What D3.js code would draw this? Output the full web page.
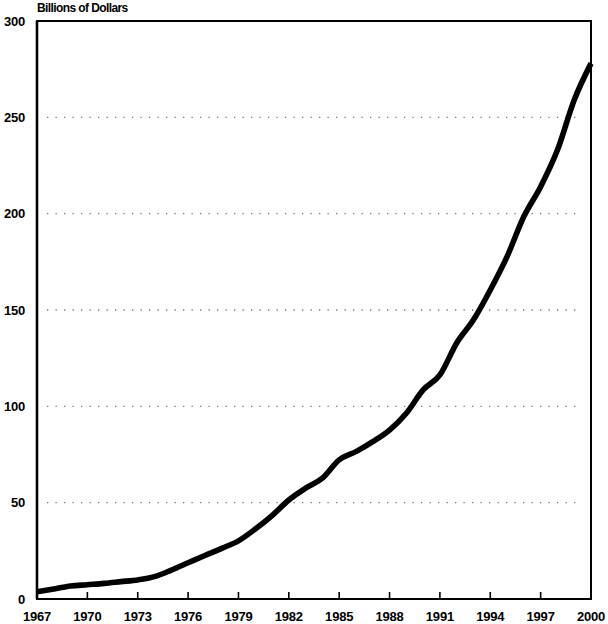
<!DOCTYPE html>
<html><head><meta charset="utf-8">
<script src="https://cdn.jsdelivr.net/npm/d3@7"></script>
<style>body{margin:0;background:#fff}svg{display:block}text{font-family:"Liberation Sans",Arial,sans-serif;font-weight:bold;fill:#000}</style>
</head><body>
<svg id="c" width="608" height="624"></svg>
<script>
const years = [1967,1968,1969,1970,1971,1972,1973,1974,1975,1976,1977,1978,1979,1980,1981,1982,1983,1984,1985,1986,1987,1988,1989,1990,1991,1992,1993,1994,1995,1996,1997,1998,1999,2000];
const values = [3.8,5.2,6.7,7.4,8.1,9.0,9.9,11.6,15.0,18.8,22.6,26.3,30.2,36.3,43.3,51.4,57.5,62.7,72.2,76.5,81.7,87.7,96.4,108.5,116.3,132.9,144.9,160.4,177.7,198.5,214.0,233.0,259.0,278.0];
const xTicks = [1967,1970,1973,1976,1979,1982,1985,1988,1991,1994,1997,2000];
const yTicks = [0,50,100,150,200,250,300];
const gridVals = [50,100,150,200,250];
const yTitle = "Billions of Dollars";

const svg = d3.select("#c");
const L=37, R=591, T=21, B=599;
const x = d3.scaleLinear().domain([1967,2000]).range([L,R]);
const y = d3.scaleLinear().domain([0,300]).range([B,T]);

// gridlines
svg.append("g").selectAll("line").data(gridVals).join("line")
  .attr("x1",47).attr("x2",580).attr("y1",d=>y(d)).attr("y2",d=>y(d))
  .attr("stroke","#777").attr("stroke-width",1.3).attr("stroke-dasharray","1.3,7.2");

// frame
svg.append("rect").attr("x",L).attr("y",T).attr("width",R-L).attr("height",B-T)
  .attr("fill","none").attr("stroke","#000").attr("stroke-width",2);
svg.append("line").attr("x1",L).attr("x2",L).attr("y1",T).attr("y2",B).attr("stroke","#000").attr("stroke-width",2.6);

// bottom inner ticks
svg.append("g").selectAll("line").data(xTicks.filter(d=>d>1967&&d<2000)).join("line")
  .attr("x1",d=>x(d)).attr("x2",d=>x(d)).attr("y1",B).attr("y2",B-7)
  .attr("stroke","#000").attr("stroke-width",1.6);

// x labels
svg.append("g").selectAll("text").data(xTicks).join("text")
  .attr("x",d=>x(d)).attr("y",621).attr("text-anchor","middle")
  .attr("font-size",13).attr("letter-spacing","-0.2").text(d=>d);

// y labels
svg.append("g").selectAll("text").data(yTicks).join("text")
  .attr("x",25).attr("y",d=>y(d)+4.5).attr("text-anchor","end")
  .attr("font-size",13).attr("letter-spacing","-0.2").text(d=>d);

// title
svg.append("text").attr("x",37).attr("y",12).attr("font-size",12).attr("letter-spacing","-0.6").text(yTitle);

// line
const line = d3.line().x((d,i)=>x(years[i])).y(d=>y(d)).curve(d3.curveMonotoneX);
svg.append("path").datum(values).attr("d",line).attr("fill","none")
  .attr("stroke","#000").attr("stroke-width",5.6).attr("stroke-linejoin","round").attr("stroke-linecap","butt");
</script>
</body></html>
